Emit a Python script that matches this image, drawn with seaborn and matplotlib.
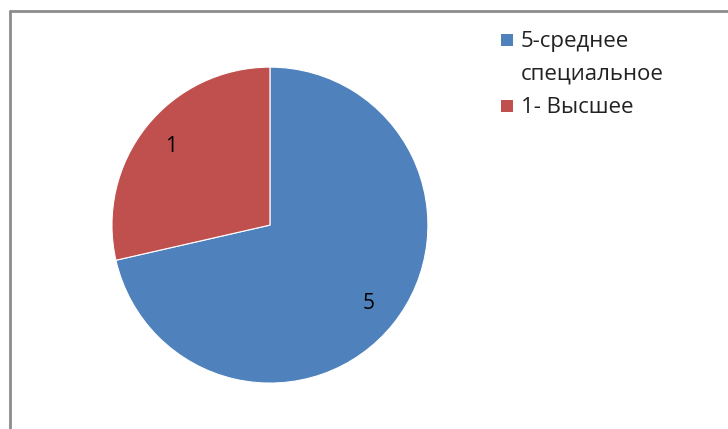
import matplotlib
matplotlib.use("Agg")
import matplotlib.pyplot as plt
import seaborn as sns
from matplotlib.patches import Rectangle
from matplotlib.lines import Line2D

# data
categories = ["5-среднее\nспециальное", "1- Высшее"]
slice_values = [5, 2]          # share of the circle as drawn
slice_labels = ["5", "1"]      # data labels as printed on the slices

sns.set_theme(style="white")
plt.rcParams["font.family"] = ["Open Sans", "DejaVu Sans"]
colors = ["#4F81BD", "#C0504D"]

W, H = 728, 429
fig = plt.figure(figsize=(W / 100, H / 100), dpi=100)
ax = fig.add_axes([0.1538, 0.107, 0.434, 0.7366])

wedges, texts = ax.pie(slice_values, colors=colors, startangle=90, counterclock=False,
                       radius=1.0, labels=slice_labels, labeldistance=0.8,
                       wedgeprops=dict(linewidth=0.8, edgecolor="white"),
                       textprops=dict(fontsize=15, color="black"))
for t in texts:
    t.set_ha("center")
    t.set_va("center")
ax.set_xlim(-1, 1)
ax.set_ylim(-1, 1)
ax.set_aspect("equal")
ax.axis("off")

# legend on the right, drawn by hand so the square sits on the first line
line_gap = 33
y_base = 47
for c, lab in zip(colors, categories):
    lines = lab.split("\n")
    fig.add_artist(Rectangle((501 / W, 1 - (y_base - 1) / H), 11.5 / W, 11.5 / H,
                             transform=fig.transFigure, facecolor=c, edgecolor="none"))
    for ln in lines:
        fig.text(521 / W, 1 - y_base / H, ln, fontsize=16, color="#222222",
                 ha="left", va="baseline")
        y_base += line_gap

# chart frame (only the top and left edges are visible)
fig.add_artist(Line2D([10 / W, 10 / W], [0, 1 - 11 / H], transform=fig.transFigure,
                      color="#8c8c8c", linewidth=2))
fig.add_artist(Line2D([10 / W, 1], [1 - 11 / H, 1 - 11 / H], transform=fig.transFigure,
                      color="#8c8c8c", linewidth=2))

fig.savefig("out.png", dpi=100)
